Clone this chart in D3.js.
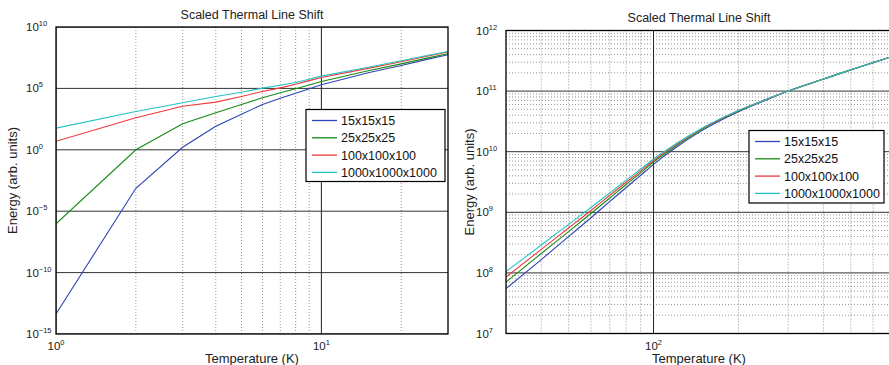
<!DOCTYPE html>
<html>
<head>
<meta charset="utf-8">
<script src="https://cdn.jsdelivr.net/npm/d3@7"></script>
<style>
  body { margin: 0; background: #fff; }
  svg { display: block; font-family: "Liberation Sans", Arial, Helvetica, sans-serif; }
</style>
</head>
<body>
<svg id="chart" width="889" height="365"></svg>
<script>
var seriesNames = ["15x15x15", "25x25x25", "100x100x100", "1000x1000x1000"];
var seriesColors = ["#2f44b6", "#178a17", "#ee3a3a", "#22c3c3"];

// left panel: low temperature range
var leftTemps = [1, 2, 3, 4, 5, 6, 7, 8, 9, 10, 15, 20, 25, 30];
var leftBlue  = [4.3e-14, 7.4e-4, 1.6, 8.3e1, 7.9e2, 4.9e3, 1.6e4, 4.1e4, 9.3e4, 2.0e5, 1.9e6, 7.4e6, 2.3e7, 5.5e7];
var leftGreen = [9.3e-7, 1.0, 1.3e2, 1.05e3, 4.9e3, 1.7e4, 4.5e4, 9.3e4, 1.9e5, 3.7e5, 2.7e6, 1.0e7, 2.9e7, 6.6e7];
var leftRed   = [5.0, 4.1e2, 3.5e3, 7.6e3, 2.2e4, 5.6e4, 1.1e5, 2.2e5, 4.3e5, 7.8e5, 4.3e6, 1.5e7, 4.2e7, 9.3e7];
var leftCyan  = [5.8e1, 1.3e3, 6.8e3, 2.2e4, 4.9e4, 1.05e5, 1.8e5, 3.0e5, 5.6e5, 1.0e6, 5.2e6, 1.8e7, 4.8e7, 1.02e8];

// right panel: high temperature range
var rightTemps = [30, 40, 50, 60, 70, 80, 90, 100, 120, 150, 200, 250, 300, 400, 500, 600, 700];
var rightBlue  = [5.50e7, 1.66e8, 3.98e8, 8.13e8, 1.51e9, 2.57e9, 4.07e9, 6.17e9, 1.17e10, 2.29e10, 4.57e10, 7.08e10, 1.00e11, 1.58e11, 2.24e11, 2.95e11, 3.72e11];
var rightGreen = [7.08e7, 2.09e8, 4.79e8, 9.55e8, 1.72e9, 2.88e9, 4.47e9, 6.76e9, 1.24e10, 2.40e10, 4.68e10, 7.24e10, 1.00e11, 1.58e11, 2.24e11, 2.95e11, 3.72e11];
var rightRed   = [8.51e7, 2.45e8, 5.50e8, 1.07e9, 1.91e9, 3.13e9, 4.79e9, 7.16e9, 1.30e10, 2.45e10, 4.79e10, 7.24e10, 1.00e11, 1.58e11, 2.24e11, 2.95e11, 3.72e11];
var rightCyan  = [1.05e8, 2.88e8, 6.31e8, 1.20e9, 2.09e9, 3.39e9, 5.13e9, 7.59e9, 1.35e10, 2.51e10, 4.79e10, 7.24e10, 1.00e11, 1.58e11, 2.24e11, 2.95e11, 3.72e11];

// ticks and grid values
var leftXTicks = [1, 10];
var leftXMinor = [2, 3, 4, 5, 6, 7, 8, 9, 20];
var leftYTicks = [1e-15, 1e-10, 1e-5, 1, 1e5, 1e10];
var rightXTicks = [100];
var rightXMinor = [40, 50, 60, 70, 80, 90, 200, 300, 400, 500, 600, 700];
var rightYTicks = [1e7, 1e8, 1e9, 1e10, 1e11, 1e12];

var svg = d3.select("#chart");

function powLabel(sel, v) {
  var e = Math.round(Math.log10(v));
  sel.text("10");
  sel.append("tspan")
    .attr("dy", -5)
    .attr("font-size", 7.5)
    .text(e < 0 ? "\u2212" + (-e) : e);
}

function drawPanel(p) {
  var g = svg.append("g");
  var x = d3.scaleLog().domain(p.xDomain).range([p.left, p.right]);
  var y = d3.scaleLog().domain(p.yDomain).range([p.bottom, p.top]);
  var clipId = "clip" + p.id;

  g.append("clipPath").attr("id", clipId)
    .append("rect")
    .attr("x", p.left).attr("y", p.top)
    .attr("width", p.right - p.left).attr("height", p.bottom - p.top);

  var grid = g.append("g").attr("clip-path", "url(#" + clipId + ")");

  // dotted minor grid
  grid.selectAll(".xminor").data(p.xMinor).enter().append("line")
    .attr("x1", function(d) { return x(d); })
    .attr("x2", function(d) { return x(d); })
    .attr("y1", p.top).attr("y2", p.bottom)
    .attr("stroke", "#7a7a7a").attr("stroke-width", 0.8)
    .attr("stroke-dasharray", "1,2");

  grid.selectAll(".yminor").data(p.yMinor).enter().append("line")
    .attr("x1", p.left).attr("x2", p.right)
    .attr("y1", function(d) { return y(d); })
    .attr("y2", function(d) { return y(d); })
    .attr("stroke", "#7a7a7a").attr("stroke-width", 0.8)
    .attr("stroke-dasharray", "1,2");

  // solid major grid
  grid.selectAll(".xmajor").data(p.xTicks).enter().append("line")
    .attr("x1", function(d) { return x(d); })
    .attr("x2", function(d) { return x(d); })
    .attr("y1", p.top).attr("y2", p.bottom)
    .attr("stroke", "#222").attr("stroke-width", 1);

  grid.selectAll(".ymajor").data(p.yTicks).enter().append("line")
    .attr("x1", p.left).attr("x2", p.right)
    .attr("y1", function(d) { return y(d); })
    .attr("y2", function(d) { return y(d); })
    .attr("stroke", "#333").attr("stroke-width", 1);

  // curves
  var line = d3.line()
    .x(function(d) { return x(d[0]); })
    .y(function(d) { return y(d[1]); })
    .curve(p.smooth ? d3.curveMonotoneX : d3.curveLinear);

  var plot = g.append("g").attr("clip-path", "url(#" + clipId + ")");
  p.series.forEach(function(vals, i) {
    plot.append("path")
      .datum(p.temps.map(function(t, j) { return [t, vals[j]]; }))
      .attr("d", line)
      .attr("fill", "none")
      .attr("stroke", seriesColors[i])
      .attr("stroke-width", 1.1);
  });

  // box
  g.append("rect")
    .attr("x", p.left).attr("y", p.top)
    .attr("width", p.right - p.left).attr("height", p.bottom - p.top)
    .attr("fill", "none").attr("stroke", "#000").attr("stroke-width", 1.3);

  // tick labels
  g.selectAll(".ylab").data(p.yTicks).enter().append("text")
    .attr("x", p.left - 30)
    .attr("y", function(d) { return y(d) + 4; })
    .attr("font-size", 11.5)
    .attr("fill", "#222")
    .each(function(d) { powLabel(d3.select(this), d); });

  g.selectAll(".xlab").data(p.xTicks).enter().append("text")
    .attr("x", function(d) { return x(d); })
    .attr("y", p.bottom + 16)
    .attr("text-anchor", "middle")
    .attr("font-size", 11.5)
    .attr("fill", "#222")
    .each(function(d) { powLabel(d3.select(this), d); });

  var cx = (p.left + p.right) / 2;
  g.append("text")
    .attr("x", cx).attr("y", p.top - 8.5)
    .attr("text-anchor", "middle")
    .attr("font-size", 12.5).attr("fill", "#222")
    .text("Scaled Thermal Line Shift");

  g.append("text")
    .attr("x", cx).attr("y", 362.5)
    .attr("text-anchor", "middle")
    .attr("font-size", 13).attr("fill", "#222")
    .text("Temperature (K)");

  g.append("text")
    .attr("transform", "translate(" + p.yLabelX + "," + ((p.top + p.bottom) / 2) + ") rotate(-90)")
    .attr("text-anchor", "middle")
    .attr("font-size", 13).attr("fill", "#222")
    .text("Energy (arb. units)");

  // legend
  var lg = g.append("g").attr("transform", "translate(" + p.legend[0] + "," + p.legend[1] + ")");
  lg.append("rect")
    .attr("width", p.legend[2]).attr("height", p.legend[3])
    .attr("fill", "#fff").attr("stroke", "#000").attr("stroke-width", 1.2);
  seriesNames.forEach(function(name, i) {
    var ly = 11 + i * 17.3;
    lg.append("line")
      .attr("x1", 6).attr("x2", 31)
      .attr("y1", ly).attr("y2", ly)
      .attr("stroke", seriesColors[i]).attr("stroke-width", 1.3);
    lg.append("text")
      .attr("x", 35).attr("y", ly + 4.4)
      .attr("font-size", 12.5).attr("fill", "#111")
      .text(name);
  });
}

function decadeMinors(lo, hi) {
  var out = [];
  for (var e = lo; e < hi; e++) {
    for (var m = 2; m <= 9; m++) out.push(m * Math.pow(10, e));
  }
  return out;
}

drawPanel({
  id: "L",
  left: 56, right: 448, top: 27, bottom: 334,
  xDomain: [1, 30], yDomain: [1e-15, 1e10],
  xTicks: leftXTicks, xMinor: leftXMinor,
  yTicks: leftYTicks, yMinor: [],
  temps: leftTemps,
  series: [leftBlue, leftGreen, leftRed, leftCyan],
  smooth: false,
  yLabelX: 17,
  legend: [306, 109.5, 139, 72]
});

drawPanel({
  id: "R",
  left: 506, right: 892, top: 30.5, bottom: 333.5,
  xDomain: [30, 700], yDomain: [1e7, 1e12],
  xTicks: rightXTicks, xMinor: rightXMinor,
  yTicks: rightYTicks, yMinor: decadeMinors(7, 12),
  temps: rightTemps,
  series: [rightBlue, rightGreen, rightRed, rightCyan],
  smooth: true,
  yLabelX: 474,
  legend: [749, 130.5, 135, 72.5]
});
</script>
</body>
</html>
